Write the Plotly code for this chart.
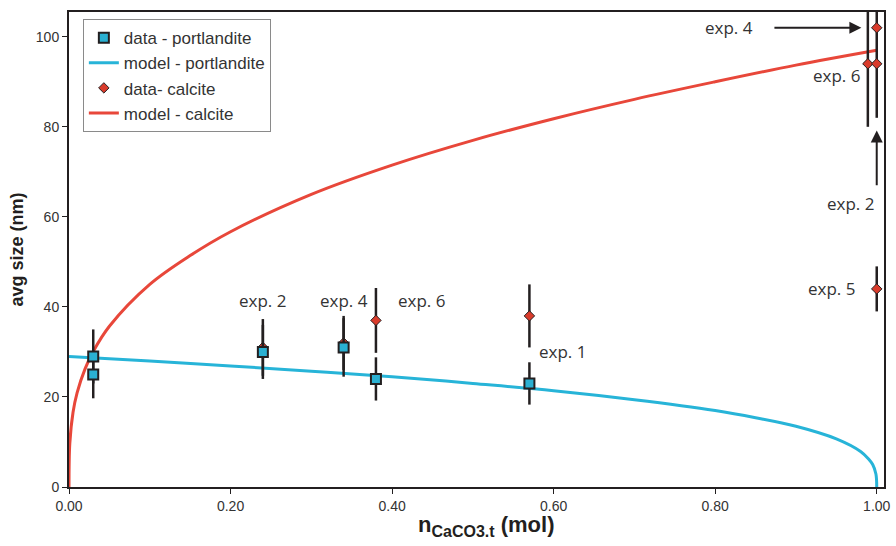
import plotly.graph_objects as go

# ---- data ----
port_x = [0.03, 0.03, 0.24, 0.34, 0.38, 0.57]
port_y = [29, 25, 30, 31, 24, 23]
port_err = [6, 5.3, 6, 6.5, 4.8, 4.7]

calc_x = [0.24, 0.34, 0.38, 0.57, 0.989, 1.0, 1.0, 1.0]
calc_y = [31, 32, 37, 38, 94, 94, 102, 44]
calc_err = [6.3, 6, 7.2, 7, 14, 12, 0, 5]

model_port_x = [0, 0.1, 0.2, 0.3, 0.4, 0.5, 0.6, 0.7, 0.8, 0.85, 0.9, 0.95, 0.98, 0.99, 0.995, 0.999, 1.0]
model_port_y = [29, 28.0, 26.9, 25.7, 24.5, 23.0, 21.4, 19.4, 17.0, 15.4, 13.5, 10.7, 7.9, 6.2, 5.0, 2.9, 0]

model_calc_x = [0, 0.001, 0.005, 0.01, 0.02, 0.03, 0.05, 0.1, 0.15, 0.2, 0.3, 0.4, 0.5, 0.6, 0.7, 0.8, 0.9, 1.0]
model_calc_y = [0, 9.7, 16.6, 20.9, 26.3, 30.1, 35.7, 45.0, 51.4, 56.7, 65.0, 71.5, 77.0, 81.8, 86.1, 90.0, 93.7, 97.0]

label_text = ["exp. 2", "exp. 4", "exp. 6", "exp. 1", "exp. 6", "exp. 5", "exp. 2"]
label_x = [0.24, 0.34, 0.436, 0.611, 0.950, 0.944, 0.967]
label_y = [41.5, 41.5, 41.5, 30, 91.5, 44, 63]

# arrow: exp. 4 label with horizontal arrow to the calcite point
arrow4_text = "exp. 4"
arrow4_head = (0.981, 102)
arrow4_text_pos = (0.817, 102)

# bare arrow for exp. 2
arrow2_head = (1.0, 79.2)
arrow2_tail = (1.0, 66.6)

CYAN = "#27b4d8"
RED = "#e8473a"
DARK = "#231f20"
LABEL_FONT = dict(family="Open Sans", size=17, color="#333333")

fig = go.Figure()

fig.add_trace(go.Scatter(
    x=model_port_x, y=model_port_y, mode="lines", name="model - portlandite",
    line=dict(color=CYAN, width=3, shape="spline"), legendrank=2))
fig.add_trace(go.Scatter(
    x=model_calc_x, y=model_calc_y, mode="lines", name="model - calcite",
    line=dict(color=RED, width=3, shape="spline"), legendrank=4))
fig.add_trace(go.Scatter(
    x=calc_x, y=calc_y, mode="markers", name="data- calcite",
    marker=dict(symbol="diamond", size=8, color="#d93b2b", line=dict(color=DARK, width=1)),
    error_y=dict(type="data", array=calc_err, visible=True, color=DARK, thickness=2.5, width=0),
    legendrank=3))
fig.add_trace(go.Scatter(
    x=port_x, y=port_y, mode="markers", name="data - portlandite",
    marker=dict(symbol="square", size=10, color="#2ab0d2", line=dict(color=DARK, width=2)),
    error_y=dict(type="data", array=port_err, visible=True, color=DARK, thickness=2.5, width=0),
    legendrank=1))

for t, x, y in zip(label_text, label_x, label_y):
    fig.add_annotation(x=x, y=y, text=t, showarrow=False, font=LABEL_FONT)

fig.add_annotation(x=arrow4_head[0], y=arrow4_head[1], ax=arrow4_text_pos[0], ay=arrow4_text_pos[1],
                   axref="x", ayref="y", xref="x", yref="y", text=arrow4_text, font=LABEL_FONT,
                   showarrow=True, arrowhead=2, arrowsize=1.2, arrowwidth=2, arrowcolor=DARK,
                   startstandoff=20)

fig.add_annotation(x=arrow2_head[0], y=arrow2_head[1], ax=arrow2_tail[0], ay=arrow2_tail[1],
                   axref="x", ayref="y", xref="x", yref="y", text=" ", font=dict(size=1),
                   showarrow=True, arrowhead=2, arrowsize=1.2, arrowwidth=2, arrowcolor=DARK)

# x-axis title as annotation (placed slightly right of center as in the reference)
fig.add_annotation(xref="paper", yref="paper", x=0.512, y=-0.083, xanchor="center", yanchor="middle",
                   showarrow=False,
                   text="<b>n</b><sub><span style='font-size:16px'><b>CaCO3.t</b></span></sub><b> (mol)</b>",
                   font=dict(family="Liberation Sans", size=22, color=DARK))

fig.update_layout(
    width=896, height=546,
    margin=dict(l=69, r=5, t=12, b=59),
    plot_bgcolor="white", paper_bgcolor="white",
    font=dict(family="Liberation Sans", color="#333333"),
    showlegend=True,
    legend=dict(x=0.017, y=0.985, xanchor="left", yanchor="top",
                bordercolor="#8a8a8a", borderwidth=1, bgcolor="white",
                font=dict(size=17, color="#333333"), tracegroupgap=0, itemwidth=30),
    xaxis=dict(range=[0, 1.009], tickvals=[0, 0.2, 0.4, 0.6, 0.8, 1.0], tickformat=".2f",
               showgrid=False, zeroline=False, showline=True, mirror=True,
               linecolor=DARK, linewidth=2, ticks="outside", ticklen=5, tickcolor=DARK,
               tickfont=dict(size=14, color="#333333")),
    yaxis=dict(range=[0, 105.5], tickvals=[0, 20, 40, 60, 80, 100],
               showgrid=False, zeroline=False, showline=True, mirror=True,
               linecolor=DARK, linewidth=2, ticks="outside", ticklen=5, tickcolor=DARK,
               tickfont=dict(size=14, color="#333333"),
               title=dict(text="<b>avg size (nm)</b>", font=dict(size=18, color="#231f20"), standoff=8)),
)

fig.write_html("out.html")
